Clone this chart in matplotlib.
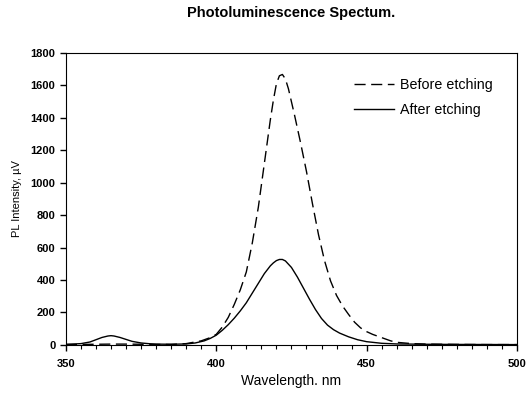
import numpy as np
import matplotlib.pyplot as plt

plt.rcParams['font.family'] = ['Liberation Sans', 'DejaVu Sans']

# before etching (dashed)
wl_before = [350, 355, 360, 365, 370, 375, 380, 385, 390, 395, 398, 400, 402, 404, 406,
             408, 410, 412, 414, 416, 418, 419, 420, 421, 422, 423, 424, 426, 428, 430,
             432, 434, 436, 438, 440, 442, 444, 446, 448, 450, 452, 455, 458, 460, 465,
             470, 480, 490, 500]
pl_before = [3, 3, 4, 5, 5, 4, 3, 3, 8, 25, 45, 65, 110, 170, 250,
             340, 450, 630, 850, 1120, 1390, 1510, 1610, 1660, 1668, 1640, 1580, 1420, 1250, 1070,
             870, 680, 520, 395, 305, 240, 188, 140, 105, 82, 65, 45, 25, 16, 8,
             5, 3, 2, 2]

# after etching (solid)
wl_after = [350, 355, 358, 360, 362, 364, 365, 366, 368, 370, 372, 375, 378, 380, 385,
            390, 393, 396, 398, 400, 402, 404, 406, 408, 410, 412, 414, 416, 418, 419,
            420, 421, 422, 423, 425, 427, 429, 431, 433, 435, 437, 439, 441, 444, 447,
            450, 455, 460, 470, 480, 500]
pl_after = [3, 8, 18, 32, 46, 55, 57, 55, 46, 34, 22, 12, 7, 5, 4,
            6, 12, 25, 40, 60, 90, 125, 165, 210, 260, 320, 380, 440, 488, 506,
            520, 527, 527, 518, 478, 418, 350, 282, 218, 163, 122, 94, 73, 50, 32,
            20, 10, 6, 4, 3, 2]

fig = plt.figure(figsize=(5.27, 3.96), dpi=100)
ax = fig.add_axes([0.125, 0.129, 0.856, 0.737])

ax.plot(wl_before, pl_before, color='black', lw=1.0, dashes=(8, 4), label='Before etching')
ax.plot(wl_after, pl_after, color='black', lw=1.0, label='After etching')

ax.set_xlim(350, 500)
ax.set_ylim(0, 1800)
ax.set_xticks([350, 400, 450, 500])
ax.set_xticks(np.arange(350, 501, 5), minor=True)
ax.set_yticks(np.arange(0, 1801, 200))
ax.tick_params(axis='both', which='major', direction='out', length=4, width=1, labelsize=8)
ax.tick_params(axis='x', which='major', pad=6)
ax.tick_params(axis='x', which='minor', direction='out', length=3, width=0.8)
for lab in ax.get_xticklabels() + ax.get_yticklabels():
    lab.set_fontweight('bold')

ax.set_xlabel('Wavelength. nm', fontsize=10)
ax.set_ylabel('PL Intensity, µV', fontsize=8, labelpad=6)
ax.set_title('Photoluminescence Spectum.', fontsize=10.5, fontweight='bold', pad=26)

ax.legend(loc='upper right', frameon=False, fontsize=10.3, handlelength=2.8,
          handletextpad=0.4, borderpad=0, borderaxespad=0,
          bbox_to_anchor=(0.946, 0.916), labelspacing=0.8)

plt.savefig('out.png')
